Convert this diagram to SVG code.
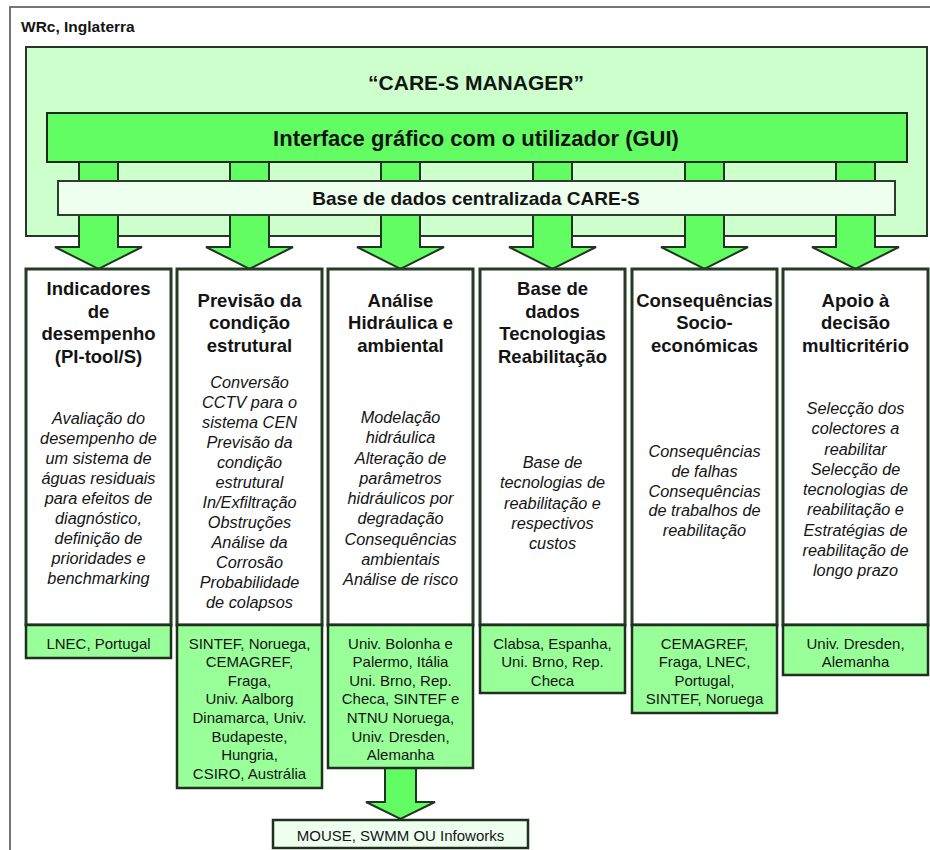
<svg xmlns="http://www.w3.org/2000/svg" width="930" height="850" viewBox="0 0 930 850">
<style>
text{font-family:"Liberation Sans",Arial,sans-serif;fill:#141414;text-anchor:middle}
.hdr{font-weight:bold;font-size:15.5px;text-anchor:start}
.t1{font-weight:bold;font-size:21px}
.t2{font-weight:bold;font-size:22px}
.t3{font-weight:bold;font-size:19px}
.ct{font-weight:bold;font-size:18.5px}
.ci{font-style:italic;font-size:16.3px}
.in{font-size:15px}
.frame{fill:none;stroke:#666;stroke-width:1.8}
.mgr{fill:#ccffcc;stroke:#263526;stroke-width:2}
.gui{fill:#62fd62;stroke:#1d2a1d;stroke-width:2}
.db{fill:#eefff0;stroke:#2e3d2e;stroke-width:2}
.col{fill:#ffffff;stroke:#243c24;stroke-width:3}
.inst{fill:#99ff99;stroke:#1f301f;stroke-width:2.5}
.arr{fill:#62fd62;stroke:#243424;stroke-width:2;stroke-linejoin:miter}
.out{fill:#eefff0;stroke:#1f301f;stroke-width:2.5}
</style>
<rect class="frame" x="10" y="7" width="940" height="870"/>
<text class="hdr" x="21" y="32">WRc, Inglaterra</text>
<g id="manager">
<rect class="mgr" x="26" y="47" width="901" height="189"/>
<text class="t1" x="476" y="89.5">“CARE-S MANAGER”</text>
</g>
<g id="connectors">
<path class="arr" d="M79,162 V247 H55 L98.5,269 L142,247 H118 V162"/>
<path class="arr" d="M230,162 V247 H206 L249.5,269 L293,247 H269 V162"/>
<path class="arr" d="M381,162 V247 H357 L400.5,269 L444,247 H420 V162"/>
<path class="arr" d="M533,162 V247 H509 L552.5,269 L596,247 H572 V162"/>
<path class="arr" d="M685,162 V247 H661 L704.5,269 L748,247 H724 V162"/>
<path class="arr" d="M836,162 V247 H812 L855.5,269 L899,247 H875 V162"/>
<path class="arr" d="M385,768 V802 H366 L400.5,819 L435,802 H416 V768"/>
</g>
<g id="gui">
<rect class="gui" x="47" y="113" width="860" height="49"/>
<text class="t2" x="476" y="146">Interface gráfico com o utilizador (GUI)</text>
</g>
<g id="db">
<rect class="db" x="58" y="181" width="837" height="34"/>
<text class="t3" x="476" y="205">Base de dados centralizada CARE-S</text>
</g>
<g id="col1">
<rect class="col" x="26" y="269" width="145" height="356"/>
<text class="ct" x="98.5" y="295.3">Indicadores</text>
<text class="ct" x="98.5" y="317.8">de</text>
<text class="ct" x="98.5" y="340.3">desempenho</text>
<text class="ct" x="98.5" y="362.8">(PI-tool/S)</text>
<text class="ci" x="98.5" y="424">Avaliação do</text>
<text class="ci" x="98.5" y="444">desempenho de</text>
<text class="ci" x="98.5" y="464">um sistema de</text>
<text class="ci" x="98.5" y="484">águas residuais</text>
<text class="ci" x="98.5" y="504">para efeitos de</text>
<text class="ci" x="98.5" y="524">diagnóstico,</text>
<text class="ci" x="98.5" y="544">definição de</text>
<text class="ci" x="98.5" y="564">prioridades e</text>
<text class="ci" x="98.5" y="584">benchmarking</text>
</g>
<g id="inst1">
<rect class="inst" x="26" y="625" width="145" height="33"/>
<text class="in" x="98.5" y="648.5">LNEC, Portugal</text>
</g>
<g id="col2">
<rect class="col" x="177" y="269" width="145" height="356"/>
<text class="ct" x="249.5" y="306.5">Previsão da</text>
<text class="ct" x="249.5" y="329">condição</text>
<text class="ct" x="249.5" y="351.5">estrutural</text>
<text class="ci" x="249.5" y="388">Conversão</text>
<text class="ci" x="249.5" y="408">CCTV para o</text>
<text class="ci" x="249.5" y="428">sistema CEN</text>
<text class="ci" x="249.5" y="448">Previsão da</text>
<text class="ci" x="249.5" y="468">condição</text>
<text class="ci" x="249.5" y="488">estrutural</text>
<text class="ci" x="249.5" y="508">In/Exfiltração</text>
<text class="ci" x="249.5" y="528">Obstruções</text>
<text class="ci" x="249.5" y="548">Análise da</text>
<text class="ci" x="249.5" y="568">Corrosão</text>
<text class="ci" x="249.5" y="588">Probabilidade</text>
<text class="ci" x="249.5" y="608">de colapsos</text>
</g>
<g id="inst2">
<rect class="inst" x="177" y="625" width="145" height="163"/>
<text class="in" x="249.5" y="648.5">SINTEF, Noruega,</text>
<text class="in" x="249.5" y="667.1">CEMAGREF,</text>
<text class="in" x="249.5" y="685.7">Fraga,</text>
<text class="in" x="249.5" y="704.3">Univ. Aalborg</text>
<text class="in" x="249.5" y="722.9">Dinamarca, Univ.</text>
<text class="in" x="249.5" y="741.5">Budapeste,</text>
<text class="in" x="249.5" y="760.1">Hungria,</text>
<text class="in" x="249.5" y="778.7">CSIRO, Austrália</text>
</g>
<g id="col3">
<rect class="col" x="328" y="269" width="145" height="356"/>
<text class="ct" x="400.5" y="306.5">Análise</text>
<text class="ct" x="400.5" y="329">Hidráulica e</text>
<text class="ct" x="400.5" y="351.5">ambiental</text>
<text class="ci" x="400.5" y="423">Modelação</text>
<text class="ci" x="400.5" y="443.25">hidráulica</text>
<text class="ci" x="400.5" y="463.5">Alteração de</text>
<text class="ci" x="400.5" y="483.75">parâmetros</text>
<text class="ci" x="400.5" y="504">hidráulicos por</text>
<text class="ci" x="400.5" y="524.25">degradação</text>
<text class="ci" x="400.5" y="544.5">Consequências</text>
<text class="ci" x="400.5" y="564.75">ambientais</text>
<text class="ci" x="400.5" y="585">Análise de risco</text>
</g>
<g id="inst3">
<rect class="inst" x="328" y="625" width="145" height="143"/>
<text class="in" x="400.5" y="648.5">Univ. Bolonha e</text>
<text class="in" x="400.5" y="667.1">Palermo, Itália</text>
<text class="in" x="400.5" y="685.7">Uni. Brno, Rep.</text>
<text class="in" x="400.5" y="704.3">Checa, SINTEF e</text>
<text class="in" x="400.5" y="722.9">NTNU Noruega,</text>
<text class="in" x="400.5" y="741.5">Univ. Dresden,</text>
<text class="in" x="400.5" y="760.1">Alemanha</text>
</g>
<g id="col4">
<rect class="col" x="480" y="269" width="145" height="356"/>
<text class="ct" x="552.5" y="295.3">Base de</text>
<text class="ct" x="552.5" y="317.8">dados</text>
<text class="ct" x="552.5" y="340.3">Tecnologias</text>
<text class="ct" x="552.5" y="362.8">Reabilitação</text>
<text class="ci" x="552.5" y="468">Base de</text>
<text class="ci" x="552.5" y="488.25">tecnologias de</text>
<text class="ci" x="552.5" y="508.5">reabilitação e</text>
<text class="ci" x="552.5" y="528.75">respectivos</text>
<text class="ci" x="552.5" y="549">custos</text>
</g>
<g id="inst4">
<rect class="inst" x="480" y="625" width="145" height="68"/>
<text class="in" x="552.5" y="648.5">Clabsa, Espanha,</text>
<text class="in" x="552.5" y="667.1">Uni. Brno, Rep.</text>
<text class="in" x="552.5" y="685.7">Checa</text>
</g>
<g id="col5">
<rect class="col" x="632" y="269" width="145" height="356"/>
<text class="ct" x="704.5" y="306.5">Consequências</text>
<text class="ct" x="704.5" y="329">Socio-</text>
<text class="ct" x="704.5" y="351.5">económicas</text>
<text class="ci" x="704.5" y="457">Consequências</text>
<text class="ci" x="704.5" y="476.75">de falhas</text>
<text class="ci" x="704.5" y="496.5">Consequências</text>
<text class="ci" x="704.5" y="516.25">de trabalhos de</text>
<text class="ci" x="704.5" y="536">reabilitação</text>
</g>
<g id="inst5">
<rect class="inst" x="632" y="625" width="145" height="88"/>
<text class="in" x="704.5" y="648.5">CEMAGREF,</text>
<text class="in" x="704.5" y="667.1">Fraga, LNEC,</text>
<text class="in" x="704.5" y="685.7">Portugal,</text>
<text class="in" x="704.5" y="704.3">SINTEF, Noruega</text>
</g>
<g id="col6">
<rect class="col" x="783" y="269" width="145" height="356"/>
<text class="ct" x="855.5" y="306.5">Apoio à</text>
<text class="ct" x="855.5" y="329">decisão</text>
<text class="ct" x="855.5" y="351.5">multicritério</text>
<text class="ci" x="855.5" y="414">Selecção dos</text>
<text class="ci" x="855.5" y="434.25">colectores a</text>
<text class="ci" x="855.5" y="454.5">reabilitar</text>
<text class="ci" x="855.5" y="474.75">Selecção de</text>
<text class="ci" x="855.5" y="495">tecnologias de</text>
<text class="ci" x="855.5" y="515.25">reabilitação e</text>
<text class="ci" x="855.5" y="535.5">Estratégias de</text>
<text class="ci" x="855.5" y="555.75">reabilitação de</text>
<text class="ci" x="855.5" y="576">longo prazo</text>
</g>
<g id="inst6">
<rect class="inst" x="783" y="625" width="145" height="50"/>
<text class="in" x="855.5" y="648.5">Univ. Dresden,</text>
<text class="in" x="855.5" y="667.1">Alemanha</text>
</g>
<g id="models">
<rect class="out" x="273" y="820" width="255" height="28"/>
<text class="in" x="400.5" y="840.5">MOUSE, SWMM OU Infoworks</text>
</g>
</svg>
